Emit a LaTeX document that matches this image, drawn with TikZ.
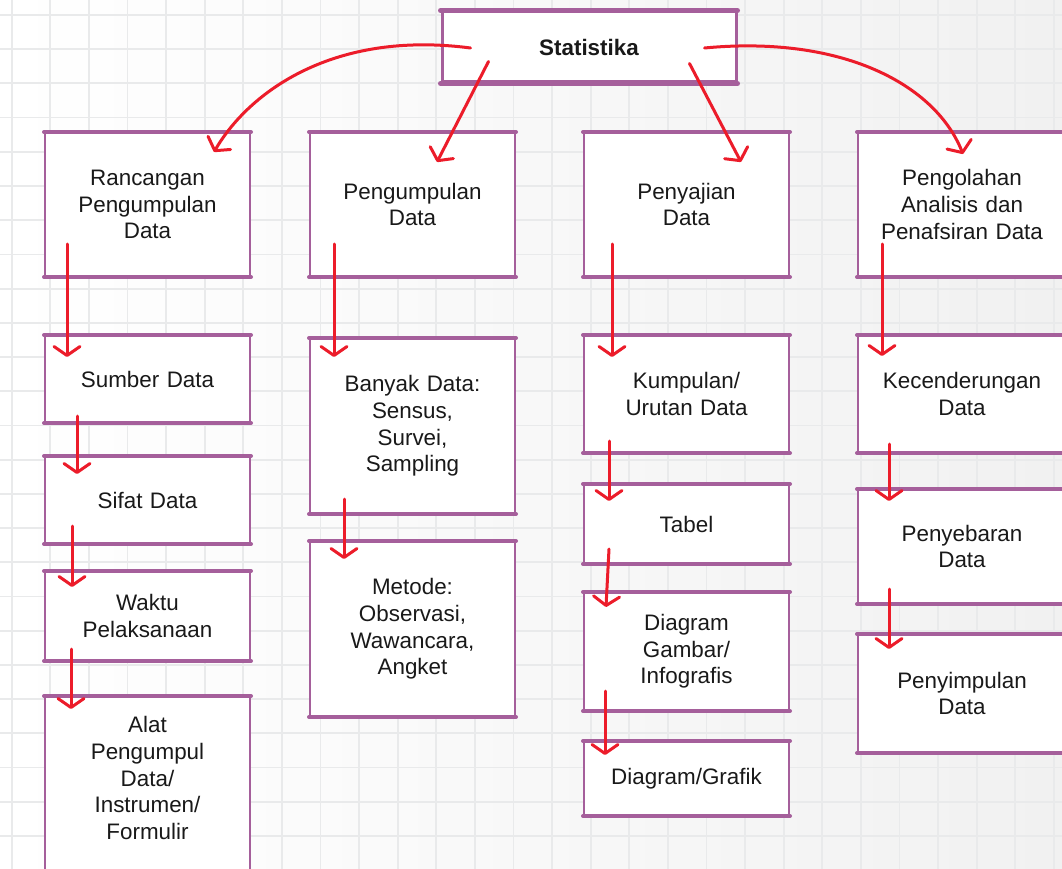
\documentclass[tikz,border=0pt]{standalone}
\usepackage{fontspec}
\setmainfont{Liberation Sans}
\usetikzlibrary{arrows.meta,calc}
\definecolor{boxc}{HTML}{A55F9B}
\definecolor{arrred}{HTML}{EC1C2A}
\definecolor{gridc}{HTML}{E9EAEB}
\definecolor{bgc}{HTML}{F1F1F1}
\newcommand\vconn[6]{\draw[arr] ([shift={(#2,#3)}]#1.south west) -- ([shift={(#5,#6)}]#4.north west);}
\begin{document}
\begin{tikzpicture}[x=1pt,y=-1pt,
  box/.style={draw=boxc, line width=2pt, fill=white, minimum width=205pt, text width=195pt,
    align=center, inner sep=0pt, font=\fontsize{22.4}{26.7}\selectfont, text=black!90},
  txt/.style={align=center, inner sep=0pt, font=\fontsize{22.4}{26.7}\selectfont, text=black!90},
  edge/.style={draw=boxc, line width=4pt, line cap=round},
  arr/.style={draw=arrred, line width=3pt, line cap=round, -{Straight Barb[length=9pt,width=26pt,round]}}]
\useasboundingbox (0,0) rectangle (1062,869);
\shade[left color=white, right color=bgc] (0,0) rectangle (1062,869);
\foreach \i in {0,...,27} \draw[gridc, line width=1.8pt] ({11.7+38.6*\i},0) -- ++(0,869);
\foreach \j in {0,...,25} \draw[gridc, line width=1.8pt] (0,{15+34.2*\j}) -- ++(1062,0);

% top
\node[box, line width=3pt, minimum width=294pt, minimum height=70pt, font=\fontsize{22.4}{26.7}\selectfont\bfseries] (stat) at (589,47) {Statistika};
% level 1
\node[box, minimum height=143pt] (ranc) at (147.5,204.5) {Rancangan\\Pengumpulan\\Data};
\node[box, minimum height=143pt] (peng) at (412.5,204.5) {Pengumpulan\\Data};
\node[box, minimum height=143pt] (saji) at (686.5,204.5) {Penyajian\\Data};
\node[box, minimum height=143pt, minimum width=208pt] (olah) at (962,204.5) {Pengolahan\\Analisis dan\\Penafsiran Data};
% column 1
\node[box, minimum height=86pt] (sumber) at (147.5,379) {Sumber Data};
\node[box, minimum height=86pt] (sifat) at (147.5,500) {Sifat Data};
\node[box, minimum height=88pt] (waktu) at (147.5,616) {Waktu\\Pelaksanaan};
\node[box, minimum height=183pt] (alatbox) at (147.5,788.5) {};
\node[txt] (alat) at (147.5,778) {Alat\\Pengumpul\\Data/\\Instrumen/\\Formulir};
% column 2
\node[box, minimum height=174pt] (banyak) at (412.5,426) {Banyak Data:\\Sensus,\\Survei,\\Sampling};
\node[box, minimum height=174pt] (metode) at (412.5,629) {Metode:\\Observasi,\\Wawancara,\\Angket};
% column 3
\node[box, minimum height=116pt] (kumpul) at (686.5,394) {Kumpulan/\\Urutan Data};
\node[box, minimum height=78pt] (tabel) at (686.5,524) {Tabel};
\node[box, minimum height=117pt] (diag) at (686.5,651.5) {Diagram\\Gambar/\\Infografis};
\node[box, minimum height=73pt] (grafik) at (686.5,778.5) {Diagram/Grafik};
% column 4
\node[box, minimum height=116pt, minimum width=208pt] (kec) at (962,394) {Kecenderungan\\Data};
\node[box, minimum height=113pt, minimum width=208pt] (sebar) at (962,546.5) {Penyebaran\\Data};
\node[box, minimum height=117pt, minimum width=208pt] (simpul) at (962,693.5) {Penyimpulan\\Data};

\foreach \n in {ranc,peng,saji,olah,sumber,sifat,waktu,alatbox,banyak,metode,kumpul,tabel,diag,grafik,kec,sebar,simpul}{
  \draw[edge] (\n.north west) -- (\n.north east);
  \draw[edge] (\n.south west) -- (\n.south east);
}
\draw[edge, line width=5pt] (stat.north west) -- (stat.north east);
\draw[edge, line width=5pt] (stat.south west) -- (stat.south east);

% top connectors
\draw[arr] ([shift={(30,1)}]stat.west) .. controls +(-137,-18) and +(35,-60) .. ([shift={(-37,20)}]ranc.north east);
\draw[arr] ([shift={(48,-22)}]stat.south west) -- ([shift={(24.5,30)}]peng.north);
\draw[arr] ([shift={(-48,-20)}]stat.south east) -- ([shift={(54.5,30)}]saji.north);
\draw[arr] ([shift={(-33,1)}]stat.east) .. controls +(137,-13) and +(-28,-70) .. ([shift={(1,22)}]olah.north);

% column connectors
\vconn{ranc}{23}{-33}{sumber}{23}{22}
\vconn{sumber}{33}{-7}{sifat}{33}{18}
\vconn{sifat}{28}{-18}{waktu}{28}{16}
\vconn{waktu}{27}{-12}{alatbox}{27}{13}
\vconn{peng}{25}{-33}{banyak}{25}{19}
\vconn{banyak}{35}{-15}{metode}{35}{18}
\vconn{saji}{29}{-33}{kumpul}{29}{22}
\vconn{kumpul}{26}{-12}{tabel}{26}{17}
\vconn{tabel}{26}{-15}{diag}{23}{15}
\vconn{diag}{22}{-20}{grafik}{22}{14}
\vconn{olah}{25}{-33}{kec}{25}{21}
\vconn{kec}{32}{-9}{sebar}{32}{12}
\vconn{sebar}{32}{-15}{simpul}{32}{15}
\end{tikzpicture}
\end{document}
